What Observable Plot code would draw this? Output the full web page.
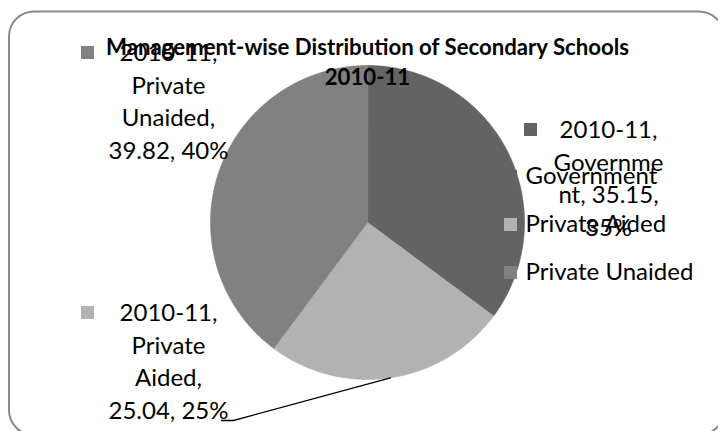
<!DOCTYPE html>
<html>
<head>
<meta charset="utf-8">
<script src="https://cdn.jsdelivr.net/npm/d3@7"></script>
<script src="https://cdn.jsdelivr.net/npm/@observablehq/plot@0.6"></script>
<style>
  html, body { margin: 0; padding: 0; background: #fff; }
  #chart { width: 718px; height: 431px; overflow: hidden; }
</style>
</head>
<body>
<div id="chart"></div>
<script>
// ---- data ----
const categories = ["Government", "Private Aided", "Private Unaided"];
const values = [35.15, 25.04, 39.82];
const percents = ["35%", "25%", "40%"];
const year = "2010-11";
const titleLines = ["Management-wise Distribution of Secondary Schools", "2010-11"];

// ---- styles / layout ----
const colors = ["#636363", "#b2b2b2", "#818181"];
const pie = {cx: 367, cy: 222, r: 157};
const fontLabel = 24;
const fontTitle = 22.2;
const lineGap = 32.5;
// label placement: centre x, baseline of last line, legend-key square position
const labelLayout = [
  {x: 608, yLast: 235, key: [524, 123]},
  {x: 168, yLast: 418, key: [81, 306]},
  {x: 168, yLast: 158, key: [81, 46]}
];
// how Excel wrapped each label
const wraps = [
  (c, v, p) => [`${year},`, c.slice(0, 8), `${c.slice(8)}, ${v},`, p],
  (c, v, p) => [`${year},`, ...c.split(" ").map((w, i, a) => i === a.length - 1 ? w + "," : w), `${v}, ${p}`],
  (c, v, p) => [`${year},`, ...c.split(" ").map((w, i, a) => i === a.length - 1 ? w + "," : w), `${v}, ${p}`]
];
const legendLayout = {xKey: 504, xText: 525, baselines: [183, 231, 279], key: 13};
const leaderStart = [[221, 420], [233, 420]];
const border = {x1: 9, x2: 724, y1: 11.5, y2: 435, rx: 25};

// ---- derived geometry ----
const arcs = d3.pie().sort(null).value(d => d.value)(
  categories.map((c, i) => ({name: c, value: values[i]}))
);
const polar = (a, rr) => [pie.cx + rr * Math.sin(a), pie.cy - rr * Math.cos(a)];
const slicePts = [];
arcs.forEach(a => {
  const name = a.data.name;
  slicePts.push({name, x: pie.cx, y: pie.cy});
  const n = Math.max(2, Math.ceil((a.endAngle - a.startAngle) / (Math.PI / 360)));
  for (let k = 0; k <= n; k++) {
    const t = a.startAngle + (a.endAngle - a.startAngle) * k / n;
    const [x, y] = polar(t, pie.r);
    slicePts.push({name, x, y});
  }
});

const labels = categories.map((c, i) => ({
  name: c,
  text: wraps[i](c, values[i], percents[i]).join("\n"),
  x: labelLayout[i].x,
  y: labelLayout[i].yLast,
  kx: labelLayout[i].key[0],
  ky: labelLayout[i].key[1]
}));

const legend = categories.map((c, i) => ({
  name: c,
  y: legendLayout.baselines[i]
}));

// leader line for Private Aided
const aided = arcs[1];
const mid = (aided.startAngle + aided.endAngle) / 2;
const leaderEnd = polar(mid, pie.r);
const leader = [...leaderStart, leaderEnd].map(([x, y]) => ({x, y}));

const chart = Plot.plot({
  width: 718,
  height: 431,
  margin: 0,
  x: {type: "identity", axis: null},
  y: {type: "identity", axis: null},
  color: {domain: categories, range: colors},
  style: {fontFamily: "Lato, 'Open Sans', sans-serif", background: "#fff", color: "#000"},
  marks: [
    // pie slices
    Plot.line(slicePts, {x: "x", y: "y", z: "name", fill: "name", stroke: "name", strokeWidth: 0.6, curve: "linear-closed"}),
    // legend
    Plot.rect(legend, {
      x1: legendLayout.xKey, x2: legendLayout.xKey + legendLayout.key,
      y1: d => d.y - legendLayout.key, y2: d => d.y,
      fill: "name"
    }),
    Plot.text(legend, {
      x: legendLayout.xText, y: "y", text: "name",
      textAnchor: "start", lineAnchor: "bottom", fontSize: fontLabel, fill: "#000"
    }),
    // data label keys
    Plot.rect(labels, {
      x1: "kx", x2: d => d.kx + legendLayout.key,
      y1: "ky", y2: d => d.ky + legendLayout.key,
      fill: "name"
    }),
    // data labels
    Plot.text(labels, {
      x: "x", y: "y", text: "text",
      textAnchor: "middle", lineAnchor: "bottom",
      lineHeight: lineGap / fontLabel, fontSize: fontLabel, fill: "#000"
    }),
    // leader line
    Plot.line(leader, {x: "x", y: "y", stroke: "#000", strokeWidth: 1.3}),
    // title
    Plot.text([titleLines.join("\n")], {
      x: pie.cx, y: 84, text: d => d,
      textAnchor: "middle", lineAnchor: "bottom",
      lineHeight: 30 / fontTitle, fontSize: fontTitle, fontWeight: "bold", fill: "#000"
    }),
    // chart border
    Plot.rect([border], {
      x1: "x1", x2: "x2", y1: "y1", y2: "y2",
      rx: border.rx, fill: "none", stroke: "#8a8a8a", strokeWidth: 2
    })
  ]
});
document.getElementById("chart").appendChild(chart);
</script>
</body>
</html>
